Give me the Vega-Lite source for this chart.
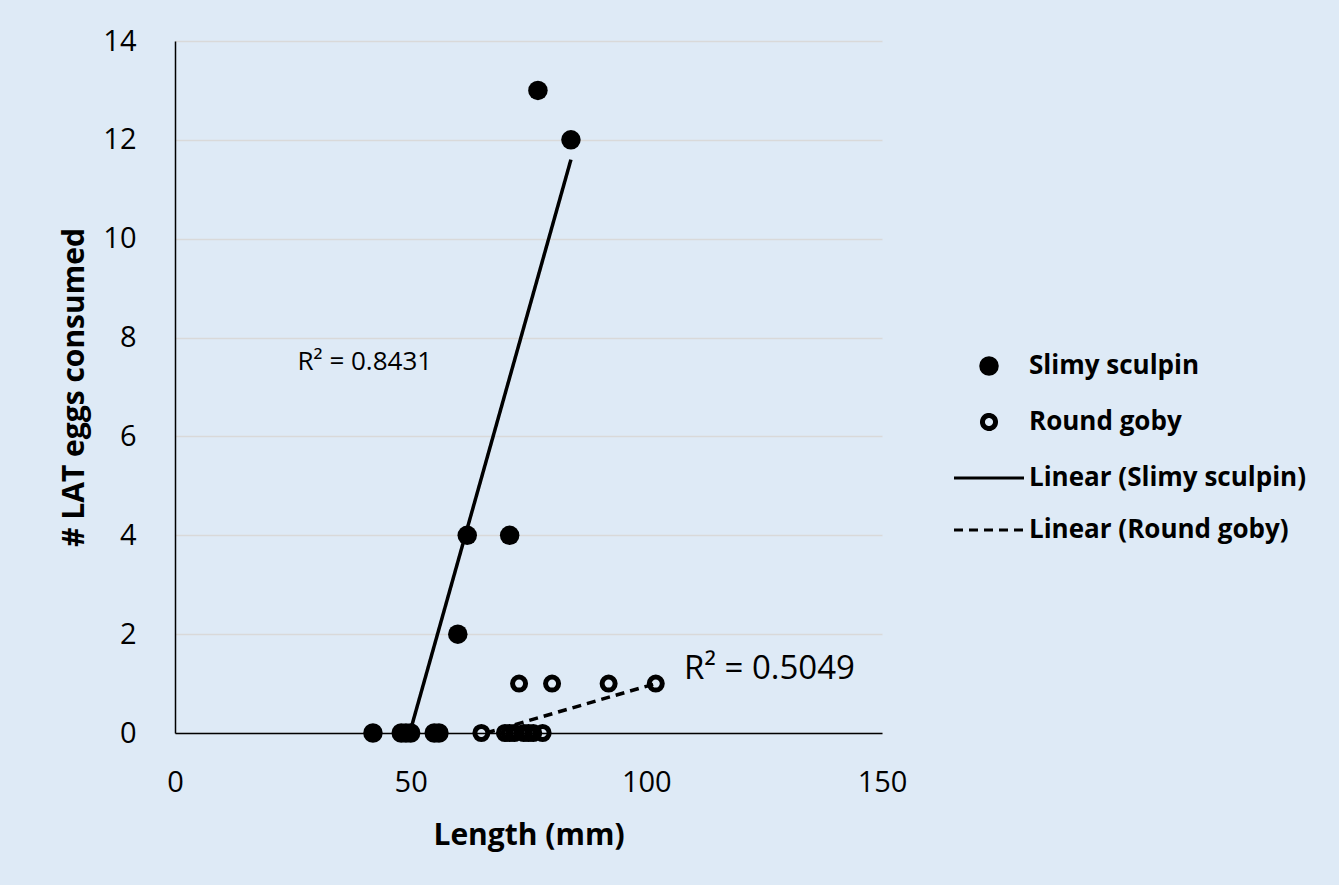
{
  "$schema": "https://vega.github.io/schema/vega-lite/v6.json",
  "width": 707,
  "height": 692,
  "autosize": {"type": "none"},
  "padding": {"left": 175, "top": 41, "right": 457, "bottom": 152},
  "background": "#DEEAF6",
  "config": {
    "view": {"stroke": null},
    "font": "Open Sans",
    "legend": {
      "labelFont": "Open Sans",
      "labelFontWeight": "bold",
      "labelFontSize": 26,
      "labelColor": "black",
      "labelLimit": 0,
      "labelOffset": 27,
      "rowPadding": 26,
      "padding": 0,
      "orient": "none",
      "legendX": 801,
      "legendY": 312
    }
  },
  "datasets": {
    "points": [
      {"length": 42, "eggs": 0, "series": "Slimy sculpin"},
      {"length": 48, "eggs": 0, "series": "Slimy sculpin"},
      {"length": 49, "eggs": 0, "series": "Slimy sculpin"},
      {"length": 50, "eggs": 0, "series": "Slimy sculpin"},
      {"length": 55, "eggs": 0, "series": "Slimy sculpin"},
      {"length": 56, "eggs": 0, "series": "Slimy sculpin"},
      {"length": 60, "eggs": 2, "series": "Slimy sculpin"},
      {"length": 62, "eggs": 4, "series": "Slimy sculpin"},
      {"length": 71, "eggs": 4, "series": "Slimy sculpin"},
      {"length": 77, "eggs": 13, "series": "Slimy sculpin"},
      {"length": 84, "eggs": 12, "series": "Slimy sculpin"},
      {"length": 65, "eggs": 0, "series": "Round goby"},
      {"length": 70, "eggs": 0, "series": "Round goby"},
      {"length": 71, "eggs": 0, "series": "Round goby"},
      {"length": 72, "eggs": 0, "series": "Round goby"},
      {"length": 74, "eggs": 0, "series": "Round goby"},
      {"length": 75, "eggs": 0, "series": "Round goby"},
      {"length": 76, "eggs": 0, "series": "Round goby"},
      {"length": 78, "eggs": 0, "series": "Round goby"},
      {"length": 73, "eggs": 1, "series": "Round goby"},
      {"length": 80, "eggs": 1, "series": "Round goby"},
      {"length": 92, "eggs": 1, "series": "Round goby"},
      {"length": 102, "eggs": 1, "series": "Round goby"}
    ],
    "trend": [
      {"length": 49.8, "eggs": 0, "series": "Linear (Slimy sculpin)"},
      {"length": 84, "eggs": 11.6, "series": "Linear (Slimy sculpin)"},
      {"length": 66, "eggs": 0, "series": "Linear (Round goby)"},
      {"length": 102, "eggs": 1.0, "series": "Linear (Round goby)"}
    ],
    "labels": [
      {"length": 26, "eggs": 7.5, "series": "Slimy sculpin", "label": "R² = 0.8431"},
      {"length": 108, "eggs": 1.3, "series": "Round goby", "label": "R² = 0.5049"}
    ]
  },
  "encoding": {
    "x": {
      "field": "length",
      "type": "quantitative",
      "scale": {"domain": [0, 150], "nice": false, "zero": false},
      "axis": {
        "values": [0, 50, 100, 150],
        "grid": false,
        "ticks": false,
        "labelFlush": false,
        "domainColor": "black",
        "domainWidth": 1.5,
        "labelFont": "Open Sans",
        "labelFontSize": 29,
        "labelColor": "black",
        "labelPadding": 35,
        "title": "Length (mm)",
        "titleFont": "Open Sans",
        "titleFontSize": 30,
        "titleFontWeight": "bold",
        "titleColor": "black",
        "titlePadding": 23
      }
    },
    "y": {
      "field": "eggs",
      "type": "quantitative",
      "scale": {"domain": [0, 14], "nice": false, "zero": false},
      "axis": {
        "values": [0, 2, 4, 6, 8, 10, 12, 14],
        "grid": true,
        "gridColor": "#D9D9D9",
        "gridWidth": 1.5,
        "ticks": false,
        "domainColor": "black",
        "domainWidth": 1.5,
        "labelFont": "Open Sans",
        "labelFontSize": 29,
        "labelColor": "black",
        "labelPadding": 39,
        "title": "# LAT eggs consumed",
        "titleFont": "Open Sans",
        "titleFontSize": 30,
        "titleFontWeight": "bold",
        "titleColor": "black",
        "titlePadding": 13
      }
    }
  },
  "layer": [
    {
      "data": {"name": "trend"},
      "mark": {"type": "line", "color": "black", "strokeWidth": 3.5},
      "encoding": {
        "strokeDash": {
          "field": "series",
          "type": "nominal",
          "scale": {
            "domain": ["Slimy sculpin", "Round goby", "Linear (Slimy sculpin)", "Linear (Round goby)"],
            "range": [[1, 0], [1, 0], [1, 0], [9, 6]]
          },
          "legend": {"title": null}
        }
      }
    },
    {
      "data": {"name": "points"},
      "mark": {"type": "point", "opacity": 1},
      "encoding": {
        "shape": {
          "field": "series",
          "type": "nominal",
          "scale": {
            "domain": ["Slimy sculpin", "Round goby", "Linear (Slimy sculpin)", "Linear (Round goby)"],
            "range": ["circle", "circle", "M-3.5,0L3.5,0", "M-3.5,0L3.5,0"]
          },
          "legend": {"title": null}
        },
        "fill": {
          "field": "series",
          "type": "nominal",
          "scale": {
            "domain": ["Slimy sculpin", "Round goby", "Linear (Slimy sculpin)", "Linear (Round goby)"],
            "range": ["black", "transparent", "transparent", "transparent"]
          },
          "legend": {"title": null}
        },
        "stroke": {
          "field": "series",
          "type": "nominal",
          "scale": {
            "domain": ["Slimy sculpin", "Round goby", "Linear (Slimy sculpin)", "Linear (Round goby)"],
            "range": ["black", "black", "black", "black"]
          },
          "legend": {"title": null}
        },
        "size": {
          "field": "series",
          "type": "nominal",
          "scale": {
            "type": "ordinal",
            "domain": ["Slimy sculpin", "Round goby", "Linear (Slimy sculpin)", "Linear (Round goby)"],
            "range": [380, 170, 400, 400]
          },
          "legend": {"title": null}
        },
        "strokeWidth": {
          "field": "series",
          "type": "nominal",
          "scale": {
            "type": "ordinal",
            "domain": ["Slimy sculpin", "Round goby", "Linear (Slimy sculpin)", "Linear (Round goby)"],
            "range": [0, 5, 3, 3]
          },
          "legend": {"title": null}
        }
      }
    },
    {
      "data": {"name": "labels"},
      "transform": [{"filter": "datum.series == 'Slimy sculpin'"}],
      "mark": {"type": "text", "align": "left", "baseline": "middle", "fontSize": 26, "color": "black", "font": "Open Sans"},
      "encoding": {"text": {"field": "label"}}
    },
    {
      "data": {"name": "labels"},
      "transform": [{"filter": "datum.series == 'Round goby'"}],
      "mark": {"type": "text", "align": "left", "baseline": "middle", "fontSize": 33, "color": "black", "font": "Open Sans"},
      "encoding": {"text": {"field": "label"}}
    }
  ]
}
